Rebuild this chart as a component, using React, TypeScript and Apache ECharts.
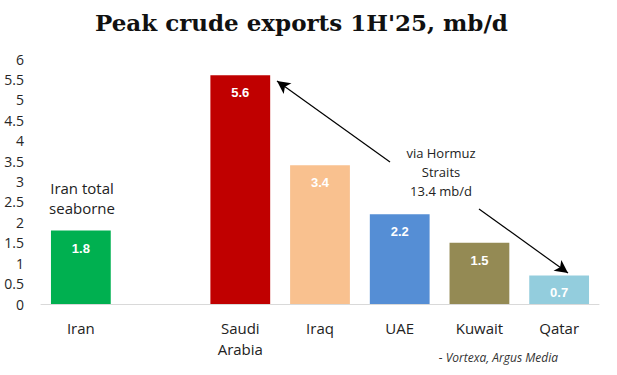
import React, { useEffect, useRef } from "react";
import * as echarts from "echarts";

const categories = ["Iran", "", "Saudi\nArabia", "Iraq", "UAE", "Kuwait", "Qatar"];
const values: (number | null)[] = [1.8, null, 5.6, 3.4, 2.2, 1.5, 0.7];
const colors = ["#00B050", "#ffffff", "#C00000", "#F9C18F", "#558ED5", "#948A54", "#93CDDD"];
const titleText = "Peak crude exports 1H'25, mb/d";
const iranNote = "Iran total\nseaborne";
const hormuzNote = "via Hormuz\nStraits\n13.4 mb/d";
const sourceText = "- Vortexa, Argus Media";

export default function App() {
  const ref = useRef<HTMLDivElement>(null);
  useEffect(() => {
    document.body.style.margin = "0";
    const chart = echarts.init(ref.current!, null, { renderer: "svg" });
    chart.setOption({
      animation: false,
      backgroundColor: "#ffffff",
      title: {
        text: titleText,
        left: 90,
        top: 6,
        textStyle: {
          fontFamily: "DejaVu Serif",
          fontWeight: "bold",
          fontSize: 23,
          color: "#111111",
        },
      },
      grid: { left: 41, right: 18, top: 59, bottom: 71, containLabel: false },
      xAxis: {
        type: "category",
        data: categories,
        axisLine: { lineStyle: { color: "#d9d9d9", width: 1 } },
        axisTick: { show: false },
        axisLabel: {
          margin: 13,
          fontFamily: "Open Sans",
          fontSize: 15,
          color: "#222222",
          lineHeight: 21,
          interval: 0,
        },
      },
      yAxis: {
        type: "value",
        min: 0,
        max: 6,
        interval: 0.5,
        axisLine: { show: false },
        axisTick: { show: false },
        splitLine: { show: false },
        axisLabel: {
          margin: 17,
          fontFamily: "Open Sans",
          fontSize: 14,
          color: "#262626",
        },
      },
      series: [
        {
          type: "bar",
          data: values.map((v, i) => ({ value: v, itemStyle: { color: colors[i] } })),
          barWidth: "75%",
          label: {
            show: true,
            position: "insideTop",
            distance: 11,
            color: "#ffffff",
            fontFamily: "Liberation Sans",
            fontWeight: "bold",
            fontSize: 13,
          },
          markLine: {
            silent: true,
            symbol: ["none", "arrow"],
            symbolSize: [10, 13],
            label: { show: false },
            lineStyle: { color: "#000000", width: 1.2, type: "solid" },
            data: [
              [{ x: 390, y: 162 }, { x: 277, y: 81 }],
              [{ x: 479, y: 209 }, { x: 568, y: 273 }],
            ],
          },
        },
      ],
      graphic: [
        {
          type: "text",
          x: 82,
          y: 198,
          style: {
            text: iranNote,
            align: "center",
            verticalAlign: "middle",
            fontFamily: "Open Sans",
            fontSize: 15,
            lineHeight: 20,
            fill: "#222222",
          },
        },
        {
          type: "text",
          x: 441,
          y: 172,
          style: {
            text: hormuzNote,
            align: "center",
            verticalAlign: "middle",
            fontFamily: "Open Sans",
            fontSize: 13,
            lineHeight: 19,
            fill: "#222222",
          },
        },
        {
          type: "text",
          x: 558,
          y: 357,
          style: {
            text: sourceText,
            align: "right",
            verticalAlign: "middle",
            fontFamily: "Open Sans",
            fontStyle: "italic",
            fontSize: 12,
            fill: "#333333",
          },
        },
      ],
    });
    return () => chart.dispose();
  }, []);
  return <div ref={ref} style={{ width: 617, height: 375 }} />;
}
